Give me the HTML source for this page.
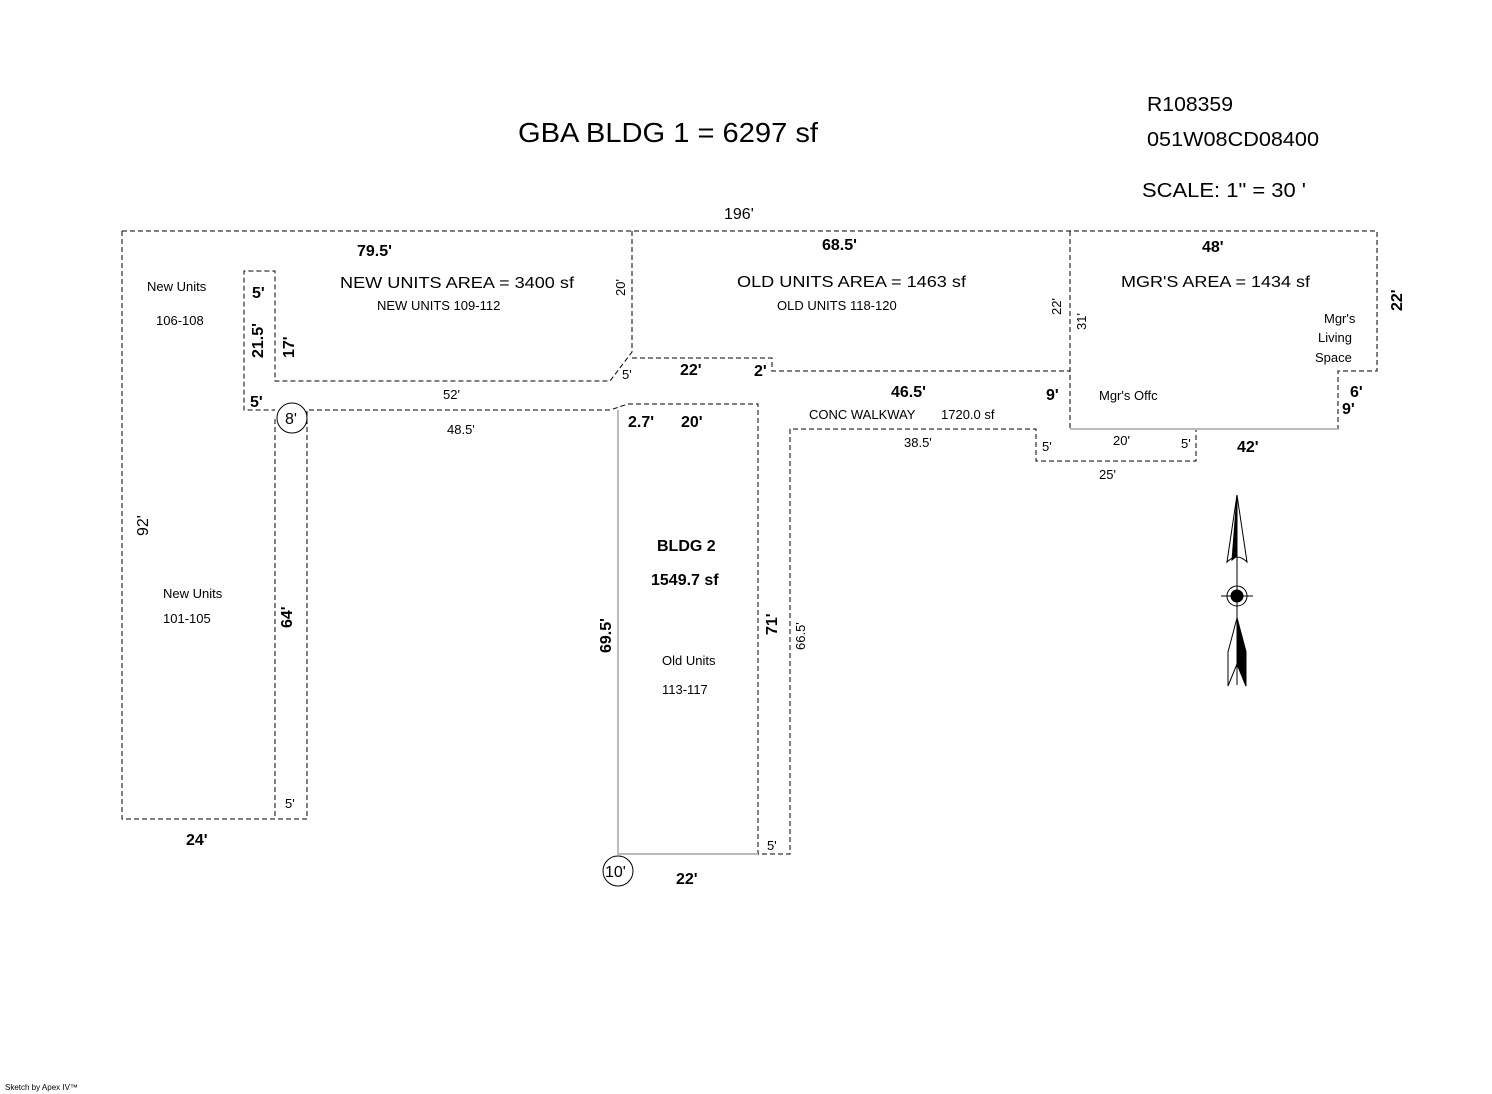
<!DOCTYPE html>
<html><head><meta charset="utf-8"><style>
html,body{margin:0;padding:0;background:#fff;}
svg{display:block;font-family:"Liberation Sans",Arial,sans-serif;}
</style></head><body>
<svg width="1492" height="1094" viewBox="0 0 1492 1094" xmlns="http://www.w3.org/2000/svg">
<g fill="none" stroke="#000" stroke-width="1" stroke-dasharray="5,3">
<path d="M122,231 L1377,231 L1377,371 L1338,371 L1338,429 L1196,429"/>
<path d="M122,231 L122,819 L307,819 L307,410 L610,410 L628,404 L758,404 L758,854 L790,854 L790,429 L1036,429 L1036,461 L1196,461 L1196,429"/>
<path d="M275,419 L275,819"/>
<path d="M632,231 L632,352 L610,381 L275,381 L275,271 L244,271 L244,410 L275,410"/>
<path d="M632,358 L772,358 L772,371 L1070,371"/>
<path d="M1070,231 L1070,429 L1196,429"/>
</g>
<g stroke="#bbb" stroke-width="2" fill="none">
<path d="M618,410 L618,854 L758,854"/>
<path d="M1070,429 L1338,429"/>
</g>
<circle cx="292" cy="418" r="15" fill="#fff" stroke="#000"/>
<circle cx="618" cy="871" r="15" fill="#fff" stroke="#000"/>
<g stroke="#000" fill="none">
<line x1="1237" y1="495" x2="1237" y2="685"/>
<path d="M1237,495 L1227,562 Q1237,552 1247,562 Z" fill="#fff"/>
<path d="M1237,495 L1232,560 L1237,556 Z" fill="#000"/>
<circle cx="1237" cy="596" r="10"/>
<circle cx="1237" cy="596" r="6" fill="#000"/>
<line x1="1221" y1="596" x2="1253" y2="596"/>
<path d="M1237,618 L1228,652 L1228,686 L1237,664 L1246,686 L1246,652 Z" fill="#fff"/>
<path d="M1237,618 L1237,664 L1246,686 L1246,652 Z" fill="#000"/>
</g>
<text x="518" y="142" font-size="28" textLength="300" lengthAdjust="spacingAndGlyphs" fill="#000">GBA BLDG 1 = 6297 sf</text>
<g fill="#000" font-size="20">
<text x="1147" y="111" textLength="86" lengthAdjust="spacingAndGlyphs">R108359</text>
<text x="1147" y="146" textLength="172" lengthAdjust="spacingAndGlyphs">051W08CD08400</text>
<text x="1142" y="197" textLength="164" lengthAdjust="spacingAndGlyphs">SCALE: 1" = 30 '</text>
</g>
<g fill="#000" font-size="16" font-weight="bold">
<text x="340" y="288" font-weight="normal" textLength="234" lengthAdjust="spacingAndGlyphs">NEW UNITS AREA = 3400 sf</text>
<text x="737" y="287" font-weight="normal" textLength="229" lengthAdjust="spacingAndGlyphs">OLD UNITS AREA = 1463 sf</text>
<text x="1121" y="287" font-weight="normal" textLength="189" lengthAdjust="spacingAndGlyphs">MGR'S AREA = 1434 sf</text>
<text x="657" y="551">BLDG 2</text>
<text x="651" y="585">1549.7 sf</text>
<text x="724" y="219" font-weight="normal">196'</text>
<text x="357" y="256">79.5'</text>
<text x="822" y="250">68.5'</text>
<text x="1202" y="252">48'</text>
<text x="252" y="298">5'</text>
<text x="250" y="407">5'</text>
<text x="285" y="424" font-weight="normal">8'</text>
<text x="680" y="375">22'</text>
<text x="754" y="376">2'</text>
<text x="891" y="397">46.5'</text>
<text x="1046" y="400">9'</text>
<text x="1350" y="397">6'</text>
<text x="1342" y="414">9'</text>
<text x="1237" y="452">42'</text>
<text x="628" y="427">2.7'</text>
<text x="681" y="427">20'</text>
<text x="186" y="845">24'</text>
<text x="676" y="884">22'</text>
<text x="605" y="877" font-weight="normal">10'</text>
<text transform="translate(263,358) rotate(-90)">21.5'</text>
<text transform="translate(294,358) rotate(-90)">17'</text>
<text transform="translate(148,536) rotate(-90)" font-weight="normal">92'</text>
<text transform="translate(292,628) rotate(-90)">64'</text>
<text transform="translate(611,653) rotate(-90)">69.5'</text>
<text transform="translate(777,635) rotate(-90)">71'</text>
<text transform="translate(1402,311) rotate(-90)">22'</text>
</g>
<g fill="#000" font-size="13">
<text x="147" y="291">New Units</text>
<text x="156" y="325">106-108</text>
<text x="377" y="310">NEW UNITS 109-112</text>
<text x="777" y="310">OLD UNITS 118-120</text>
<text x="1324" y="323">Mgr's</text>
<text x="1318" y="342">Living</text>
<text x="1315" y="362">Space</text>
<text x="1099" y="400">Mgr's Offc</text>
<text x="809" y="419">CONC WALKWAY</text>
<text x="941" y="419">1720.0 sf</text>
<text x="443" y="399">52'</text>
<text x="447" y="434">48.5'</text>
<text x="904" y="447">38.5'</text>
<text x="1113" y="445">20'</text>
<text x="1099" y="479">25'</text>
<text x="1042" y="451">5'</text>
<text x="1181" y="448">5'</text>
<text x="622" y="379">5'</text>
<text x="285" y="808">5'</text>
<text x="767" y="850">5'</text>
<text x="163" y="598">New Units</text>
<text x="163" y="623">101-105</text>
<text x="662" y="665">Old Units</text>
<text x="662" y="694">113-117</text>
<text transform="translate(625,296) rotate(-90)">20'</text>
<text transform="translate(1061,315) rotate(-90)">22'</text>
<text transform="translate(1086,330) rotate(-90)">31'</text>
<text transform="translate(805,650) rotate(-90)">66.5'</text>
</g>
<text x="5" y="1090" font-size="8" fill="#000">Sketch by Apex IV™</text>
</svg>
</body></html>
